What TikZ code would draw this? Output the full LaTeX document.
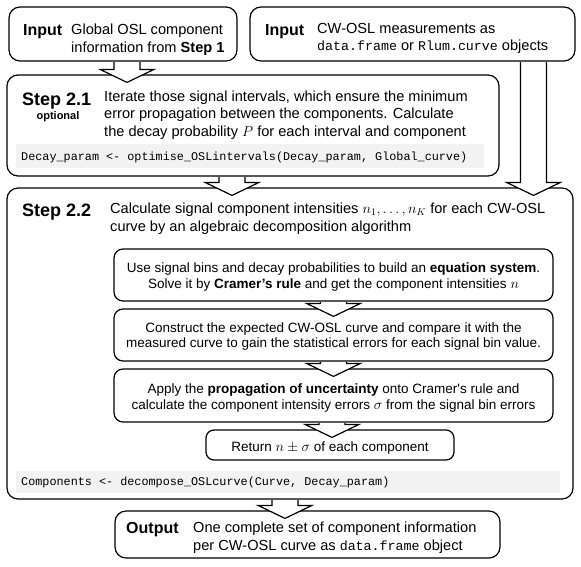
\documentclass[tikz,border=0pt]{standalone}
\usepackage{fontspec}
\setmainfont{Liberation Sans}
\setmonofont{Liberation Mono}
\usetikzlibrary{calc}
\definecolor{codebg}{RGB}{242,242,242}
\newcommand\fsmain{\fontsize{14.6}{17.5}\selectfont}
\newcommand\fsinner{\fontsize{13.5}{16}\selectfont}
\newcommand\fscode{\fontsize{11.8}{14}\selectfont\ttfamily}
\newcommand\fsincode{\fontsize{13.3}{16}\selectfont\ttfamily}
\newcommand\fshead{\fontsize{16}{19}\selectfont\bfseries}
\newcommand\fsstep{\fontsize{18}{21}\selectfont\bfseries}
\newcommand\blkarrow[3]{%
  \filldraw[blkarrow] let \p1=(#2.south), \p2=(#3.north) in
    ({(#1-13)*1pt},{\y1-0.6pt}) -- ({(#1-13)*1pt},{\y2+5pt}) -- ({(#1-27)*1pt},{\y2+5pt})
    -- ({#1*1pt},{\y2-8pt}) -- ({(#1+27)*1pt},{\y2+5pt}) -- ({(#1+13)*1pt},{\y2+5pt})
    -- ({(#1+13)*1pt},{\y1-0.6pt});%
}
\tikzset{
  bigbox/.style={draw=black, line width=1.2pt, rounded corners=11pt, inner sep=0pt, fill=white},
  smallbox/.style={draw=black, line width=1.2pt, rounded corners=9pt, inner sep=0pt, fill=white},
  codeband/.style={fill=codebg, draw=none, inner sep=0pt},
  blkarrow/.style={draw=black, fill=white, line width=1.2pt, line join=miter},
  lt/.style={anchor=base west, inner sep=0pt, font=\fsmain},
  ct/.style={anchor=base, inner sep=0pt, font=\fsinner},
  hd/.style={anchor=base west, inner sep=0pt, font=\fshead},
  st/.style={anchor=base west, inner sep=0pt, font=\fsstep},
  cd/.style={anchor=base west, inner sep=0pt, font=\fscode},
}
\begin{document}
\begin{tikzpicture}[x=1pt,y=-1pt]
\useasboundingbox (0,0) rectangle (581,566);
% boxes
\node[bigbox, minimum width=228pt, minimum height=54pt] (in1) at (123,34) {};
\node[bigbox, minimum width=325pt, minimum height=54pt] (in2) at (412.5,34) {};
\node[bigbox, minimum width=492pt, minimum height=101pt] (s21) at (253,125.5) {};
\node[bigbox, minimum width=566pt, minimum height=311pt] (s22) at (290,343.5) {};
\node[smallbox, minimum width=439pt, minimum height=52pt] (b1) at (333.5,275) {};
\node[smallbox, minimum width=439pt, minimum height=52pt] (b2) at (333.5,335) {};
\node[smallbox, minimum width=439pt, minimum height=53pt] (b3) at (333.5,395.5) {};
\node[smallbox, minimum width=248pt, minimum height=30pt, rounded corners=8pt] (ret) at (330,445) {};
\node[bigbox, minimum width=385pt, minimum height=47pt] (out) at (307.5,534.5) {};
\node[codeband, minimum width=468pt, minimum height=24pt] (cb1) at (250,156) {};
\node[codeband, minimum width=544pt, minimum height=22pt] (cb2) at (288,482) {};
% texts: Input 1
\node[hd] (in1h) at (23,35.5) {Input};
\node[lt] (in1a) at (71,34) {Global OSL component};
\node[lt] (in1b) at (71,52) {information from \textbf{Step 1}};
% Input 2
\node[hd] (in2h) at (265,35.5) {Input};
\node[lt] (in2a) at (317,33) {CW-OSL measurements as};
\node[lt] (in2b) at (317,50) {{\fsincode data.frame} or {\fsincode Rlum.curve} objects};
% Step 2.1
\node[st] (s21h) at (22,105) {Step 2.1};
\node[anchor=base, inner sep=0pt, font=\fontsize{11}{13}\selectfont\bfseries] (s21o) at (58,119) {optional};
\node[lt] (s21a) at (104,101) {Iterate those signal intervals, which ensure the minimum};
\node[lt] (s21b) at (104,118.5) {error propagation between the components. Calculate};
\node[lt] (s21c) at (104,136) {the decay probability $P$ for each interval and component};
\node[cd] (s21code) at (21,160) {Decay\_param <- optimise\_OSLintervals(Decay\_param, Global\_curve)};
% Step 2.2
\node[st] (s22h) at (22,216) {Step 2.2};
\node[lt] (s22a) at (110,213) {Calculate signal component intensities $n_1,\dots,n_K$ for each CW-OSL};
\node[lt] (s22b) at (110,231) {curve by an algebraic decomposition algorithm};
\node[ct] (b1a) at (333.5,272) {Use signal bins and decay probabilities to build an \textbf{equation system}.};
\node[ct] (b1b) at (333.5,288) {Solve it by \textbf{Cramer’s rule} and get the component intensities $n$};
\node[ct] (b2a) at (333.5,332) {Construct the expected CW-OSL curve and compare it with the};
\node[ct] (b2b) at (333.5,347) {measured curve to gain the statistical errors for each signal bin value.};
\node[ct] (b3a) at (333.5,393) {Apply the \textbf{propagation of uncertainty} onto Cramer\textquotesingle s rule and};
\node[ct] (b3b) at (333.5,409) {calculate the component intensity errors $\sigma$ from the signal bin errors};
\node[ct] (reta) at (330,451) {Return $n\pm\sigma$ of each component};
\node[cd] (s22code) at (21,485) {Components <- decompose\_OSLcurve(Curve, Decay\_param)};
% Output
\node[hd] (outh) at (126,533) {Output};
\node[lt] (outa) at (193,532) {One complete set of component information};
\node[lt] (outb) at (193,550) {per CW-OSL curve as {\fsincode data.frame} object};
% block arrows
\blkarrow{127}{in1}{s21}
\blkarrow{232}{s21}{s22}
\blkarrow{533.5}{in2}{s22}
\blkarrow{333.5}{b1}{b2}
\blkarrow{333.5}{b2}{b3}
\blkarrow{332}{b3}{ret}
\blkarrow{285}{s22}{out}
\end{tikzpicture}
\end{document}
